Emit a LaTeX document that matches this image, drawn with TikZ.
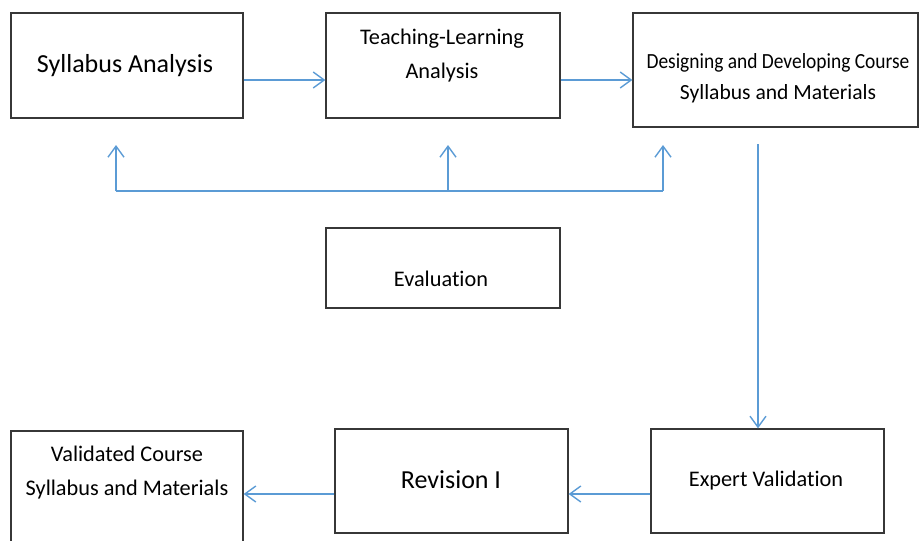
\documentclass[tikz,border=0pt]{standalone}
\usepackage{fontspec}
\setmainfont{Carlito}[RawFeature=-liga]
\usepackage{tikz}
\usetikzlibrary{arrows.meta,positioning}
\definecolor{flowblue}{RGB}{91,155,213}
\definecolor{boxline}{RGB}{55,55,55}
\tikzset{stage box/.style 2 args={rectangle, draw=boxline, line width=1.3pt,
    minimum width=#1pt, minimum height=#2pt, inner sep=0pt}}
\tikzset{stage text/.style={align=center, text=black, inner sep=0pt, anchor=base,
    font=\fontsize{22.3}{34}\selectfont}}
\tikzset{big text/.style={stage text, font=\fontsize{26}{34}\selectfont}}
\tikzset{flow line/.style={draw=flowblue, line width=1.4pt}}
\tikzset{flow edge/.style={flow line, -{Straight Barb[length=11pt,width=16pt]}}}

\begin{document}
\begin{tikzpicture}
  [x=1pt, y=-1pt]
  \useasboundingbox (0,0) rectangle (919,541);

  % boxes
  \node [stage box={232}{105}] (sa) at (127, 65.5) {};
  \node [stage box={234}{105}] (tl) at (443, 65.5) {};
  \node [stage box={285}{114}] (dd) at (775.5, 70) {};
  \node [stage box={234}{80}]  (ev) at (443, 268) {};
  \node [stage box={233}{104}] (xv) at (767.5, 481) {};
  \node [stage box={233}{104}] (rv) at (451.5, 481) {};
  \node [stage box={232}{114}] (vc) at (127, 488) {};

  % texts (multi-line ones sit on their last line)
  \node [big text]   (saText) at (125, 72.7) {Syllabus Analysis};
  \node [stage text] (tlText) at (442, 78)   {Teaching-Learning\\Analysis};
  \node [stage text, font=\fontsize{21.6}{31}\selectfont]
                     (ddText) at (778, 99)   {\scalebox{0.9}[1]{Designing and Developing Course}\\Syllabus and Materials};
  \node [stage text] (evText) at (441, 286.7) {Evaluation};
  \node [stage text] (xvText) at (766, 486)  {Expert Validation};
  \node [big text]   (rvText) at (451, 488)  {Revision I};
  \node [stage text] (vcText) at (127, 495)  {Validated Course\\Syllabus and Materials};

  % feedback line
  \coordinate (fb1)     at (116, 191);
  \coordinate (fb2)     at (448, 191);
  \coordinate (fb3)     at (663, 191);
  \coordinate (tipline) at (0, 145);
  \coordinate (dn)      at (758, 144);

  \draw [flow edge] ([yshift=-14.5pt]sa.east) to ([yshift=-14.5pt]tl.west);
  \draw [flow edge] ([yshift=-14.5pt]tl.east) to ([yshift=-10pt]dd.west);
  \draw [flow line] (fb1) -- (fb3);
  \foreach \i in {1,2,3}
    \draw [flow edge] (fb\i) -- (fb\i |- tipline);
  \draw [flow edge] (dn) -- (dn |- xv.north);
  \draw [flow edge] ([yshift=-13pt]xv.west)  to ([yshift=-13pt]rv.east);
  \draw [flow edge] ([yshift=-13pt]rv.west)  to ([yshift=-6pt]vc.east);
\end{tikzpicture}
\end{document}
